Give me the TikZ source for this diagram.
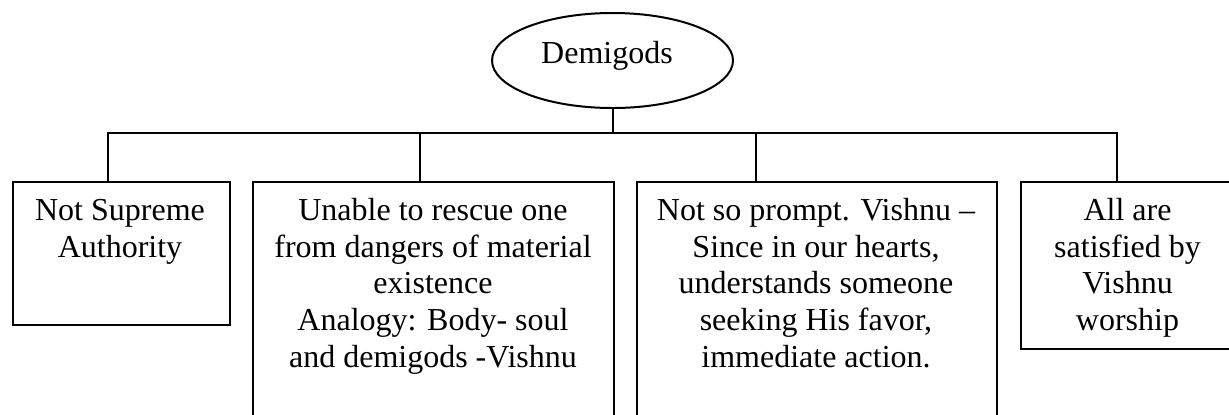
\documentclass[tikz,border=0pt]{standalone}
\usepackage{fontspec}
\setmainfont{Liberation Serif}
\usetikzlibrary{shapes.geometric}
\tikzset{
  frame/.style={draw, line width=1pt, rectangle, inner sep=0pt, anchor=north west},
  txt/.style={inner sep=0pt, anchor=north, align=center,
              font=\fontsize{16}{18.35}\selectfont},
  link/.style={line width=1pt},
}
\begin{document}
\begin{tikzpicture}[x=0.5pt,y=-0.5pt]
  % page area
  \clip (0,0) rectangle (1229,414);
  \fill[white] (0,0) rectangle (1229,414);

  % top concept
  \node[draw, ellipse, line width=1pt, inner sep=0pt,
        minimum width=120.5pt, minimum height=47.5pt] (root) at (612.5,60.5) {};
  \node[inner sep=0pt, anchor=base, font=\fontsize{16}{18.35}\selectfont]
        (rootlbl) at (607,63) {Demigods};

  % boxes
  \node[frame, minimum width=108.5pt, minimum height=71.5pt]  (b1) at (12,181) {};
  \node[frame, minimum width=180.5pt, minimum height=129.5pt] (b2) at (252,181) {};
  \node[frame, minimum width=180pt,   minimum height=129.5pt] (b3) at (636,181) {};
  \node[frame, minimum width=107.5pt, minimum height=83.5pt]  (b4) at (1020,181) {};

  % box texts
  \node[txt] (t1) at (120,194.3) {\strut Not Supreme\\Authority};
  \node[txt] (t2) at (433,194.3) {\strut Unable to rescue one\\from dangers of material\\existence\\Analogy: Body- soul\\and demigods -Vishnu};
  \node[txt] (t3) at (816,194.3) {\strut Not so prompt. Vishnu –\\Since in our hearts,\\understands someone\\seeking His favor,\\immediate action.};
  \node[txt] (t4) at (1127.5,194.3) {\strut All are\\satisfied by\\Vishnu\\worship};

  % connector tree
  \coordinate (d1) at (108,133);
  \coordinate (d2) at (420,133);
  \coordinate (d3) at (756,133);
  \coordinate (d4) at (1117,133);
  \draw[link] (root.south) -- (root.south |- d1);
  \draw[link] (b1.north -| d1) -- (d1) -- (d4) -- (b4.north -| d4);
  \draw[link] (d2) -- (b2.north -| d2);
  \draw[link] (d3) -- (b3.north -| d3);
\end{tikzpicture}
\end{document}
